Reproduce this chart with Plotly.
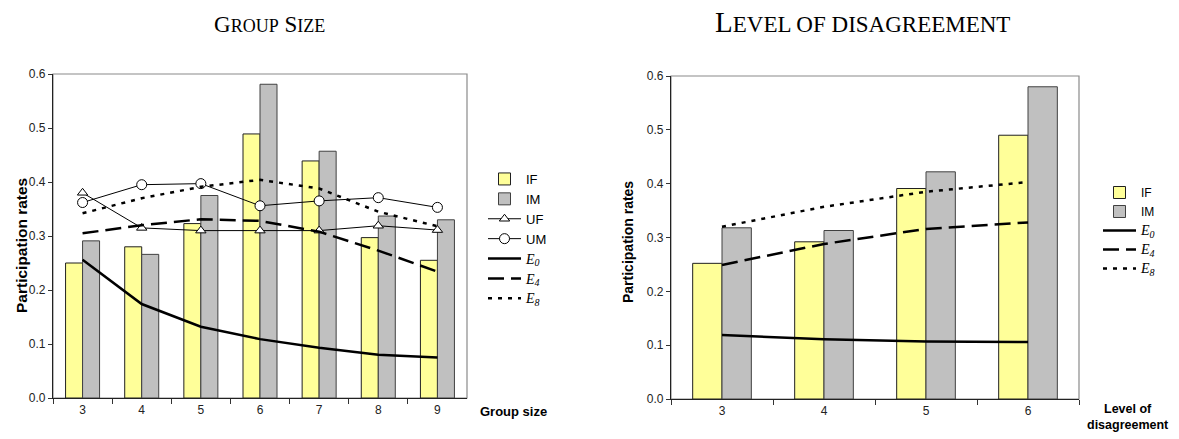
import plotly.graph_objects as go

W, H = 1179, 439

# ---- data: Group size panel ----
group_sizes = ["3", "4", "5", "6", "7", "8", "9"]
gs_IF = [0.250, 0.280, 0.323, 0.489, 0.439, 0.297, 0.255]
gs_IM = [0.291, 0.266, 0.375, 0.581, 0.457, 0.337, 0.330]
gs_UF = [0.380, 0.315, 0.310, 0.310, 0.310, 0.319, 0.311]
gs_UM = [0.362, 0.395, 0.397, 0.356, 0.365, 0.371, 0.353]
gs_E0 = [0.256, 0.174, 0.132, 0.109, 0.093, 0.080, 0.075]
gs_E4 = [0.305, 0.320, 0.331, 0.328, 0.308, 0.273, 0.234]
gs_E8 = [0.342, 0.370, 0.391, 0.404, 0.388, 0.345, 0.318]

# ---- data: Level of disagreement panel ----
levels = ["3", "4", "5", "6"]
lv_IF = [0.252, 0.292, 0.391, 0.490]
lv_IM = [0.318, 0.313, 0.422, 0.580]
lv_E0 = [0.119, 0.111, 0.107, 0.106]
lv_E4 = [0.249, 0.288, 0.316, 0.328]
lv_E8 = [0.320, 0.357, 0.385, 0.403]

YELLOW = "#FFFF99"
GREY = "#C0C0C0"
SERIF = "Liberation Serif"
SANS = "Liberation Sans"

def px_x(p):
    return p / W

def px_y(p):
    return 1 - p / H

fig = go.Figure()

def e_label(n):
    return (f"<span style='font-family:{SERIF};font-size:14px'><i>E</i></span>"
            f"<sub><span style='font-family:{SERIF};font-size:10px'><i>{n}</i></span></sub>")

def add_panel(xa, ya, legend, cats, IF, IM, E0, E4, E8, UF=None, UM=None):
    fig.add_trace(go.Bar(x=cats, y=IF, name="IF", marker=dict(color=YELLOW, line=dict(color="#202020", width=1)),
                         xaxis=xa, yaxis=ya, legend=legend))
    fig.add_trace(go.Bar(x=cats, y=IM, name="IM", marker=dict(color=GREY, line=dict(color="#404040", width=1)),
                         xaxis=xa, yaxis=ya, legend=legend))
    if UF is not None:
        fig.add_trace(go.Scatter(x=cats, y=UF, name="UF", mode="lines+markers",
                                 line=dict(color="black", width=1),
                                 marker=dict(symbol="triangle-up", size=9, color="white", line=dict(color="black", width=1)),
                                 xaxis=xa, yaxis=ya, legend=legend))
        fig.add_trace(go.Scatter(x=cats, y=UM, name="UM", mode="lines+markers",
                                 line=dict(color="black", width=1),
                                 marker=dict(symbol="circle", size=10, color="white", line=dict(color="black", width=1)),
                                 xaxis=xa, yaxis=ya, legend=legend))
    fig.add_trace(go.Scatter(x=cats, y=E0, name=e_label(0), mode="lines",
                             line=dict(color="black", width=2.5), xaxis=xa, yaxis=ya, legend=legend))
    fig.add_trace(go.Scatter(x=cats, y=E4, name=e_label(4), mode="lines",
                             line=dict(color="black", width=2.5, dash="16px,7px"), xaxis=xa, yaxis=ya, legend=legend))
    fig.add_trace(go.Scatter(x=cats, y=E8, name=e_label(8), mode="lines",
                             line=dict(color="black", width=2.5, dash="4px,6px"), xaxis=xa, yaxis=ya, legend=legend))

add_panel("x", "y", "legend", group_sizes, gs_IF, gs_IM, gs_E0, gs_E4, gs_E8, gs_UF, gs_UM)
add_panel("x2", "y2", "legend2", levels, lv_IF, lv_IM, lv_E0, lv_E4, lv_E8)

tickfont = dict(family=SANS, size=12, color="#222")

def xaxis_cfg(domain, anchor):
    return dict(domain=domain, anchor=anchor, type="category", tickson="boundaries",
                ticks="outside", ticklen=5, tickcolor="#333", tickwidth=1,
                showline=True, linecolor="#222", linewidth=1.3, showgrid=False,
                tickfont=tickfont, zeroline=False, automargin=False)

def yaxis_cfg(domain, anchor):
    return dict(domain=domain, anchor=anchor, range=[0, 0.6], dtick=0.1, tickformat=".1f",
                ticks="outside", ticklen=4, tickcolor="#333", tickwidth=1,
                showline=True, linecolor="#222", linewidth=1.3, showgrid=False,
                tickfont=tickfont, zeroline=False, automargin=False)

L_dom_x = [px_x(53), px_x(467)]
L_dom_y = [px_y(398), px_y(74)]
R_dom_x = [px_x(671), px_x(1079)]
R_dom_y = [px_y(399), px_y(76)]

fig.update_layout(
    width=W, height=H,
    margin=dict(l=0, r=0, t=0, b=0),
    paper_bgcolor="white", plot_bgcolor="white",
    barmode="group", bargap=0.425, bargroupgap=0,
    xaxis=xaxis_cfg(L_dom_x, "y"),
    yaxis=yaxis_cfg(L_dom_y, "x"),
    xaxis2=xaxis_cfg(R_dom_x, "y2"),
    yaxis2=yaxis_cfg(R_dom_y, "x2"),
    legend=dict(x=px_x(483), y=px_y(164), xanchor="left", yanchor="top",
                font=dict(family=SANS, size=13, color="black"), bgcolor="rgba(0,0,0,0)",
                itemwidth=33, tracegroupgap=0),
    legend2=dict(x=px_x(1098), y=px_y(178), xanchor="left", yanchor="top",
                 font=dict(family=SANS, size=12, color="black"), bgcolor="rgba(0,0,0,0)",
                 itemwidth=33, tracegroupgap=0),
    showlegend=True,
)

# plot frames (grey top/right)
for xr, yr in (("x domain", "y domain"), ("x2 domain", "y2 domain")):
    fig.add_shape(type="rect", xref=xr, yref=yr, x0=0, x1=1, y0=0, y1=1,
                  line=dict(color="#8a8a8a", width=1.2), layer="below")

def smallcaps(words, big, small):
    parts = []
    for w in words:
        parts.append(f"<span style='font-size:{big}px'>{w[0]}</span>"
                     f"<span style='font-size:{small}px'>{w[1:].upper()}</span>")
    return " ".join(parts)

ann = []
ann.append(dict(text=smallcaps(["Group", "Size"], 23, 18), x=px_x(269), y=px_y(39),
                xref="paper", yref="paper", xanchor="center", yanchor="bottom", showarrow=False,
                font=dict(family=SERIF, size=23, color="black")))
lvl_title = (f"<span style='font-size:29px'>L</span><span style='font-size:23px'>EVEL OF DISAGREEMENT</span>")
ann.append(dict(text=lvl_title, x=px_x(862), y=px_y(40),
                xref="paper", yref="paper", xanchor="center", yanchor="bottom", showarrow=False,
                font=dict(family=SERIF, size=29, color="black")))
ann.append(dict(text="<b>Group size</b>", x=px_x(513), y=px_y(411), xref="paper", yref="paper",
                xanchor="center", yanchor="middle", showarrow=False,
                font=dict(family=SANS, size=13, color="black")))
ann.append(dict(text="<b>Level of<br>disagreement</b>", x=px_x(1128), y=px_y(400), xref="paper", yref="paper",
                xanchor="center", yanchor="top", showarrow=False,
                font=dict(family=SANS, size=12.5, color="black")))
ann.append(dict(text="<b>Participation rates</b>", x=px_x(21), y=px_y(246), xref="paper", yref="paper",
                xanchor="center", yanchor="middle", showarrow=False, textangle=-90,
                font=dict(family=SANS, size=15.5, color="black")))
ann.append(dict(text="<b>Participation rates</b>", x=px_x(628), y=px_y(242), xref="paper", yref="paper",
                xanchor="center", yanchor="middle", showarrow=False, textangle=-90,
                font=dict(family=SANS, size=14, color="black")))
fig.update_layout(annotations=ann)

fig.write_html("out.html", config={"displayModeBar": False},
               post_script="document.body.style.margin='0';document.body.style.overflow='hidden';")
